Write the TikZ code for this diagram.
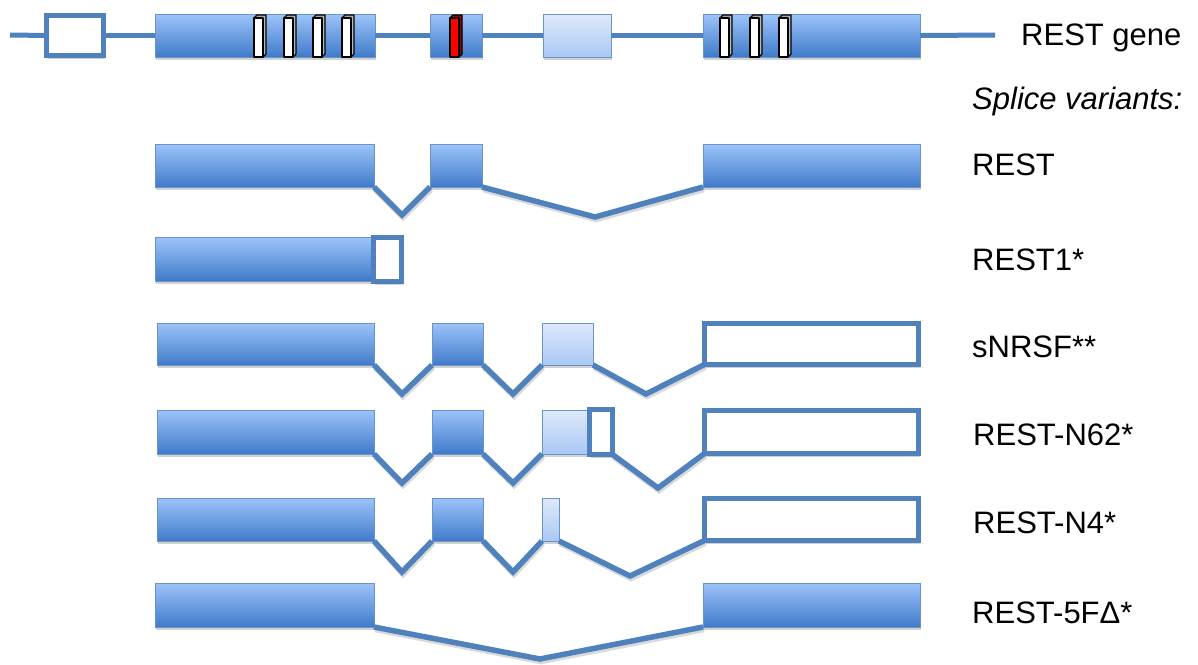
\documentclass[tikz,border=0pt]{standalone}
\usepackage{fontspec}
\setmainfont{Liberation Sans}
\usetikzlibrary{shadows}
\definecolor{ofblue}{HTML}{4F81BD}
\definecolor{extop}{HTML}{9DC3F9}
\definecolor{exbot}{HTML}{3F7BCA}
\definecolor{lttop}{HTML}{DFE9FA}
\definecolor{ltbot}{HTML}{A9C8F5}
\tikzset{
  shad/.style={drop shadow={shadow xshift=1pt,shadow yshift=-3pt,opacity=0.18,fill=black}},
  exon/.style={rectangle,inner sep=0pt,outer sep=0pt,draw=ofblue!85,line width=1pt,top color=extop,bottom color=exbot,shad},
  ltexon/.style={rectangle,inner sep=0pt,outer sep=0pt,draw=ofblue!85,line width=1pt,top color=lttop,bottom color=ltbot,shad},
  utr/.style={rectangle,inner sep=0pt,outer sep=0pt,draw=ofblue,line width=5pt,fill=white,shad},
  intron/.style={draw=ofblue,line width=5.5pt,line join=miter,
     preaction={draw=black,opacity=0.15,line width=5.5pt,transform canvas={shift={(1pt,-2.5pt)}}}},
  gline/.style={draw=ofblue,line width=5pt},
  lbl/.style={anchor=base west,inner sep=0pt,font=\fontsize{31}{37}\selectfont}
}
% exon node from corners (x1,y1) to (x2,y2)
\newcommand\ex[6]{\node[#1,minimum width={(#5-#3)*1pt},minimum height={(#6-#4)*1pt}] (#2) at ({(#3+#5)/2},{(#4+#6)/2}) {};}
% outlined (thick) box, outer edge at given corners
\newcommand\exo[6]{\node[#1,minimum width={(#5-#3-5)*1pt},minimum height={(#6-#4-5)*1pt}] (#2) at ({(#3+#5)/2},{(#4+#6)/2}) {};}
% 3D domain bar
\newcommand\zbar[4]{%
  \fill[#3] (#1,18) -- ({#1+3},15) -- ({#1+12},15) -- ({#1+9},18) -- cycle;
  \fill[#4] ({#1+9},18) -- ({#1+12},15) -- ({#1+12},54) -- ({#1+9},57) -- cycle;
  \draw[black,line width=1.1pt,line join=round,fill=#2] (#1,18) rectangle ({#1+9},57);
  \draw[black,line width=1.1pt,line join=round] (#1,18) -- ({#1+3},15) -- ({#1+12},15) -- ({#1+12},54) -- ({#1+9},57);
}
\begin{document}
\begin{tikzpicture}[x=1pt,y=-1pt]
\useasboundingbox (0,0) rectangle (1198,664);
% ---------- gene ----------
\coordinate (gs) at (10,35);
\coordinate (ge) at (995,35);
\exo{utr}{g1}{44}{13}{106}{58}
\ex{exon}{g2}{155}{14}{375}{57}
\ex{exon}{g3}{430}{14}{482}{57}
\ex{ltexon}{g4}{543}{14}{611}{57}
\ex{exon}{g5}{703}{14}{920}{57}
\draw[gline] (gs) -- (g1.west);
\draw[gline] (g1.east) -- (g2.west);
\draw[gline] (g2.east) -- (g3.west);
\draw[gline] (g3.east) -- (g4.west);
\draw[gline] (g4.east) -- (g5.west);
\draw[gline] (g5.east) -- (ge);
\zbar{254}{white}{gray!70}{gray!55}
\zbar{284}{white}{gray!70}{gray!55}
\zbar{313}{white}{gray!70}{gray!55}
\zbar{342}{white}{gray!70}{gray!55}
\zbar{450}{red}{red!60!black}{red!60!black}
\zbar{720}{white}{gray!70}{gray!55}
\zbar{750}{white}{gray!70}{gray!55}
\zbar{779}{white}{gray!70}{gray!55}
\node[lbl] (tgene) at (1021,45) {REST gene};
\node[lbl] (tsv) at (972,109) {\itshape Splice variants:};
% ---------- REST ----------
\ex{exon}{a1}{155}{144}{374}{187}
\ex{exon}{a2}{430}{144}{482}{187}
\ex{exon}{a3}{703}{144}{920}{187}
\draw[intron] (a1.south east) -- (402,215) -- (a2.south west);
\draw[intron] (a2.south east) -- (595,217) -- (a3.south west);
\node[lbl] (ta) at (972,175) {REST};
% ---------- REST1* ----------
\ex{exon}{b1}{155}{237}{374}{281}
\exo{utr}{b2}{371}{235}{404}{284}
\node[lbl] (tb) at (972,270) {REST1*};
% ---------- sNRSF** ----------
\ex{exon}{c1}{157}{323}{374}{365}
\ex{exon}{c2}{432}{323}{483}{365}
\ex{ltexon}{c3}{542}{323}{593}{365}
\exo{utr}{c4}{702}{321}{921}{367}
\draw[intron] (c1.south east) -- (402,394) -- (c2.south west);
\draw[intron] (c2.south east) -- (513,394) -- (c3.south west);
\draw[intron] (c3.south east) -- (646,394) -- (c4.south west);
\node[lbl] (tc) at (972,357) {sNRSF**};
% ---------- REST-N62* ----------
\ex{exon}{d1}{157}{410}{374}{454}
\ex{exon}{d2}{432}{410}{483}{454}
\ex{ltexon}{d3}{542}{410}{589}{454}
\exo{utr}{d4}{587}{407}{615}{457}
\exo{utr}{d5}{702}{408}{921}{456}
\draw[intron] (d1.south east) -- (402,483) -- (d2.south west);
\draw[intron] (d2.south east) -- (513,483) -- (d3.south west);
\draw[intron] (d4.south east) -- (658,488) -- (d5.south west);
\node[lbl] (td) at (973,445) {REST-N62*};
% ---------- REST-N4* ----------
\ex{exon}{e1}{157}{498}{374}{541}
\ex{exon}{e2}{432}{498}{483}{541}
\ex{ltexon}{e3}{542}{498}{559}{541}
\exo{utr}{e4}{702}{496}{921}{543}
\draw[intron] (e1.south east) -- (402,572) -- (e2.south west);
\draw[intron] (e2.south east) -- (513,572) -- (e3.south west);
\draw[intron] (e3.south east) -- (630,576) -- (e4.south west);
\node[lbl] (te) at (973,533) {REST-N4*};
% ---------- REST-5FDelta* ----------
\ex{exon}{f1}{155}{583}{374}{627}
\ex{exon}{f2}{703}{583}{920}{627}
\draw[intron] (f1.south east) -- (540,659) -- (f2.south west);
\node[lbl] (tf) at (972,623) {REST-5FΔ*};
\end{tikzpicture}
\end{document}
